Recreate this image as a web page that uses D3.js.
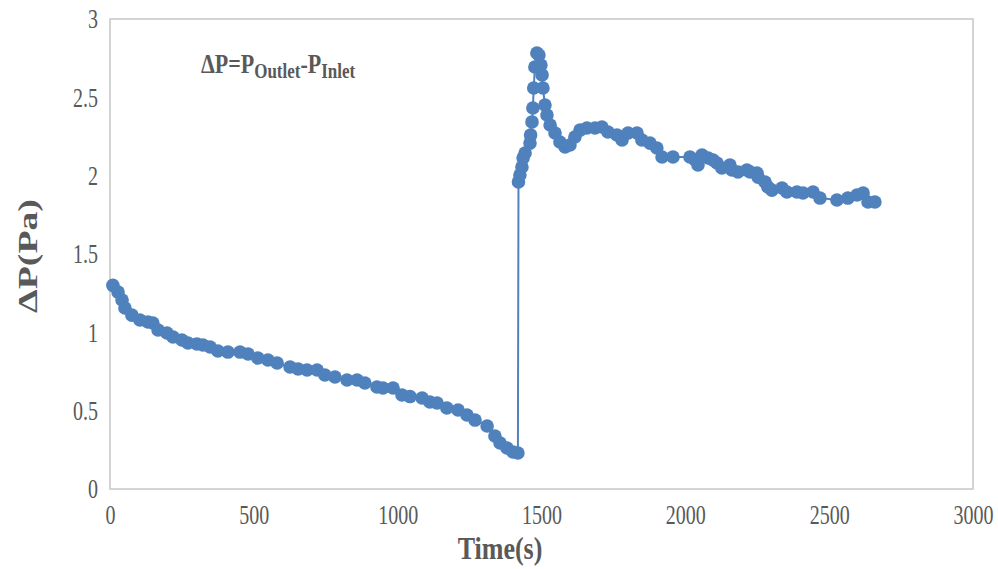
<!DOCTYPE html>
<html>
<head>
<meta charset="utf-8">
<script src="https://cdn.jsdelivr.net/npm/d3@7/dist/d3.min.js"></script>
<style>
  html, body { margin: 0; padding: 0; background: #fff; }
  svg { display: block; }
  text { font-family: "Liberation Serif", "Times New Roman", serif; fill: #595959; }
  .sy { transform-box: fill-box; transform-origin: center; transform: scaleY(1.35); }
  .sy2 { transform-box: fill-box; transform-origin: center; transform: scaleY(1.25); }
  .sx { transform-box: fill-box; transform-origin: center; transform: scaleX(1.35); }
</style>
</head>
<body>
<svg id="chart" width="998" height="569"></svg>
<script>
// ---- data ----
const times = [
  10, 28, 42, 52, 76, 104, 132, 149, 167, 198, 219, 250, 271, 302, 323, 348, 375, 410, 452, 480,
  514, 549, 581, 626, 654, 685, 720, 747, 782, 824, 859, 886, 928, 949, 984, 1015, 1043, 1085, 1112, 1137,
  1171, 1210, 1241, 1269, 1311, 1338, 1356, 1380, 1401, 1418,
  1420, 1425, 1432, 1436, 1443, 1460, 1462, 1467, 1470, 1473, 1477, 1484, 1491, 1498, 1502, 1505, 1512, 1519,
  1530, 1547, 1564, 1582, 1599, 1616, 1634, 1658, 1686, 1710, 1731, 1762, 1780, 1801, 1832, 1849, 1877, 1901,
  1919, 1957, 2016, 2034, 2044, 2058, 2079, 2096, 2110, 2127, 2155, 2162, 2183, 2214, 2225, 2249, 2253, 2277,
  2287, 2301, 2336, 2353, 2388, 2409, 2444, 2468, 2527, 2565, 2597, 2618, 2635, 2659
];
const deltaP = [
  1.300, 1.257, 1.206, 1.155, 1.110, 1.079, 1.066, 1.060, 1.015, 0.996, 0.970, 0.951, 0.932, 0.926, 0.919, 0.906, 0.881, 0.874, 0.874, 0.862,
  0.836, 0.823, 0.804, 0.779, 0.766, 0.760, 0.760, 0.728, 0.715, 0.696, 0.696, 0.677, 0.651, 0.645, 0.645, 0.600, 0.590, 0.581, 0.555, 0.549,
  0.517, 0.504, 0.472, 0.440, 0.402, 0.338, 0.294, 0.262, 0.236, 0.230,
  1.960, 2.004, 2.055, 2.113, 2.145, 2.208, 2.260, 2.343, 2.432, 2.560, 2.694, 2.783, 2.770, 2.706, 2.643, 2.560, 2.451, 2.387,
  2.323, 2.272, 2.215, 2.183, 2.196, 2.247, 2.291, 2.304, 2.304, 2.311, 2.279, 2.260, 2.228, 2.272, 2.272, 2.228, 2.208, 2.177,
  2.119, 2.119, 2.119, 2.100, 2.068, 2.132, 2.113, 2.100, 2.081, 2.049, 2.068, 2.036, 2.023, 2.036, 2.023, 2.017, 1.991, 1.960,
  1.928, 1.908, 1.921, 1.896, 1.896, 1.889, 1.896, 1.857, 1.845, 1.857, 1.877, 1.889, 1.832, 1.832
];
const xTicks = [0, 500, 1000, 1500, 2000, 2500, 3000];
const yTicks = [0, 0.5, 1, 1.5, 2, 2.5, 3];
const xTitle = "Time(s)";
const yTitle = "ΔP(Pa)";

const points = times.map((t, i) => ({ t, v: deltaP[i] }));

// ---- layout ----
const svg = d3.select("#chart");
const plotL = 110, plotR = 973, plotT = 19, plotB = 489;
const x = d3.scaleLinear().domain([0, 3000]).range([plotL, plotR]);
const y = d3.scaleLinear().domain([0, 3]).range([plotB, plotT]);

// frame
svg.append("rect")
  .attr("x", plotL).attr("y", plotT)
  .attr("width", plotR - plotL).attr("height", plotB - plotT)
  .attr("fill", "none").attr("stroke", "#c6c6c6").attr("stroke-width", 1.5);

// axes (labels only)
const xAxis = svg.append("g").attr("transform", `translate(0,${plotB})`)
  .call(d3.axisBottom(x).tickValues(xTicks).tickSize(0).tickPadding(18).tickFormat(d3.format("d")));
const yAxis = svg.append("g").attr("transform", `translate(${plotL},0)`)
  .call(d3.axisLeft(y).tickValues(yTicks).tickSize(0).tickPadding(12).tickFormat(d => String(d)));
[xAxis, yAxis].forEach(g => {
  g.select(".domain").remove();
  g.selectAll("text").attr("font-size", 20).attr("fill", "#595959")
    .attr("font-family", "'Liberation Serif', 'Times New Roman', serif")
    .attr("class", "sy");
});

// line
svg.append("path")
  .datum(points)
  .attr("fill", "none")
  .attr("stroke", "#4f81bd")
  .attr("stroke-width", 2)
  .attr("d", d3.line().x(d => x(d.t)).y(d => y(d.v)));

// markers
svg.append("g").selectAll("circle").data(points).join("circle")
  .attr("cx", d => x(d.t)).attr("cy", d => y(d.v)).attr("r", 6.8)
  .attr("fill", "#4f81bd");

// titles
svg.append("text")
  .attr("class", "sy2")
  .attr("x", 500).attr("y", 557)
  .attr("text-anchor", "middle").attr("font-size", 26).attr("font-weight", "bold")
  .text(xTitle);

svg.append("g")
  .attr("transform", `translate(37,256) rotate(-90)`)
  .append("text")
  .attr("class", "sx")
  .attr("text-anchor", "middle").attr("font-size", 28).attr("font-weight", "bold")
  .text(yTitle);

// annotation
const ann = svg.append("text").attr("x", 201).attr("y", 72)
  .attr("class", "sy2")
  .attr("font-size", 22).attr("font-weight", "bold");
ann.append("tspan").text("ΔP=P");
ann.append("tspan").attr("font-size", 17).attr("dy", 4).text("Outlet");
ann.append("tspan").attr("dy", -4).text("-P");
ann.append("tspan").attr("font-size", 17).attr("dy", 4).text("Inlet");
</script>
</body>
</html>
